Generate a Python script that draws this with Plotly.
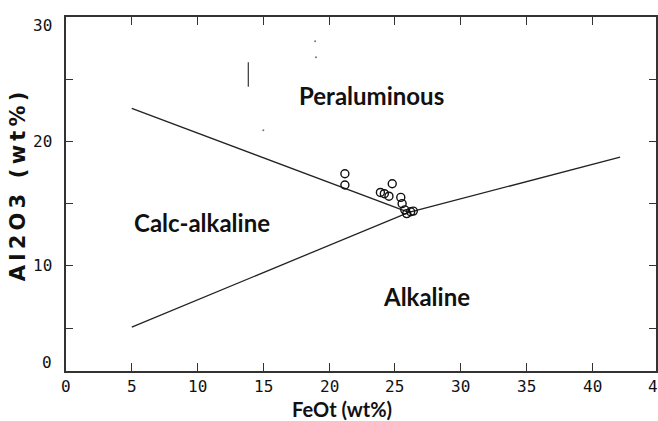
import plotly.graph_objects as go

# ---- data ----
feot = [21.2, 21.2, 23.9, 24.2, 24.8, 24.55, 25.45, 25.55, 25.75, 25.9, 26.2, 26.4]
al2o3 = [17.4, 16.5, 15.9, 15.8, 16.6, 15.6, 15.5, 15.0, 14.5, 14.2, 14.35, 14.4]

# boundary lines (FeOt, Al2O3)
upper_x = [5.0, 26.06]
upper_y = [22.65, 14.3]
lower_x = [5.0, 26.06, 42.12]
lower_y = [5.08, 14.3, 18.73]

# stray marks in the scanned original
stray_line_x = [13.86, 13.86]
stray_line_y = [26.37, 24.4]
stray_dot_x = [18.94, 19.0, 15.0]
stray_dot_y = [28.05, 26.77, 20.9]

field_names = ["Peraluminous", "Calc-alkaline", "Alkaline"]
field_x = [23.2, 10.3, 27.4]
field_y = [23.7, 13.5, 7.5]

x_ticks = [0, 5, 10, 15, 20, 25, 30, 35, 40, 45]
x_tick_text = ["0", "5", "10", "15", "20", "25", "30", "35", "40", "45"]
y_ticks = [5, 10, 15, 20, 25]
y_label_vals = [0, 10, 20, 30]
y_label_text = ["0", "10", "20", "30"]

x_range = [0, 44.85]
y_range = [1.55, 30]

INK = "#222222"
TICKFONT = dict(family="DejaVu Sans Mono, monospace", size=16, color="#111111")

fig = go.Figure()

fig.add_trace(go.Scatter(x=upper_x, y=upper_y, mode="lines",
                         line=dict(color=INK, width=1.3), hoverinfo="skip"))
fig.add_trace(go.Scatter(x=lower_x, y=lower_y, mode="lines",
                         line=dict(color=INK, width=1.3), hoverinfo="skip"))
fig.add_trace(go.Scatter(x=stray_line_x, y=stray_line_y, mode="lines",
                         line=dict(color="#444444", width=1.3), hoverinfo="skip"))
fig.add_trace(go.Scatter(x=stray_dot_x, y=stray_dot_y, mode="markers",
                         marker=dict(color="#777777", size=2), hoverinfo="skip"))
fig.add_trace(go.Scatter(x=feot, y=al2o3, mode="markers",
                         marker=dict(symbol="circle-open", size=8, color="#111111",
                                     line=dict(width=1.4, color="#111111"))))

annotations = []
for name, fx, fy in zip(field_names, field_x, field_y):
    annotations.append(dict(x=fx, y=fy, xref="x", yref="y", text=name, showarrow=False,
                            font=dict(family="Lato", size=24, color="#111111", weight="bold")))

# x tick labels
for v, t in zip(x_ticks, x_tick_text):
    annotations.append(dict(x=v / x_range[1], y=0, xref="paper", yref="paper", text=t,
                            showarrow=False, xanchor="center", yanchor="top", yshift=-4,
                            font=TICKFONT))
# y tick labels (clamped inside the frame like the original)
for v, t in zip(y_label_vals, y_label_text):
    pos = min(max(v, y_range[0] + 0.65), y_range[1] - 0.65)
    annotations.append(dict(x=0, y=pos, xref="paper", yref="y", text=t, showarrow=False,
                            xanchor="right", yanchor="middle", xshift=-12, font=TICKFONT))

annotations.append(dict(x=0.468, y=0, xref="paper", yref="paper", text="FeOt (wt%)",
                        showarrow=False, yanchor="top", yshift=-24,
                        font=dict(family="Lato", size=20, color="#111111", weight="bold")))
sp = "\u2009"
annotations.append(dict(x=-0.081, y=0.52, xref="paper", yref="paper",
                        text=sp.join("Al2O3 (wt%)"), showarrow=False, textangle=-90,
                        xanchor="center", yanchor="middle",
                        font=dict(family="DejaVu Sans", size=21, color="#111111", weight="bold")))

fig.update_layout(
    width=658, height=421,
    margin=dict(l=66, r=0, t=17, b=50),
    paper_bgcolor="white", plot_bgcolor="white",
    showlegend=False,
    annotations=annotations,
    xaxis=dict(range=x_range, tickvals=x_ticks[1:-1], showticklabels=False,
               ticks="inside", ticklen=8, tickwidth=1.3, tickcolor="#333333",
               showline=True, linecolor="#333333", linewidth=1.5, mirror="ticks",
               showgrid=False, zeroline=False),
    yaxis=dict(range=y_range, tickvals=y_ticks, showticklabels=False,
               ticks="inside", ticklen=7, tickwidth=1.3, tickcolor="#333333",
               showline=True, linecolor="#333333", linewidth=1.5, mirror="ticks",
               showgrid=False, zeroline=False),
)

fig.write_html("out.html", config={"displayModeBar": False},
               post_script="document.body.style.margin='0';document.body.style.overflow='hidden';")
